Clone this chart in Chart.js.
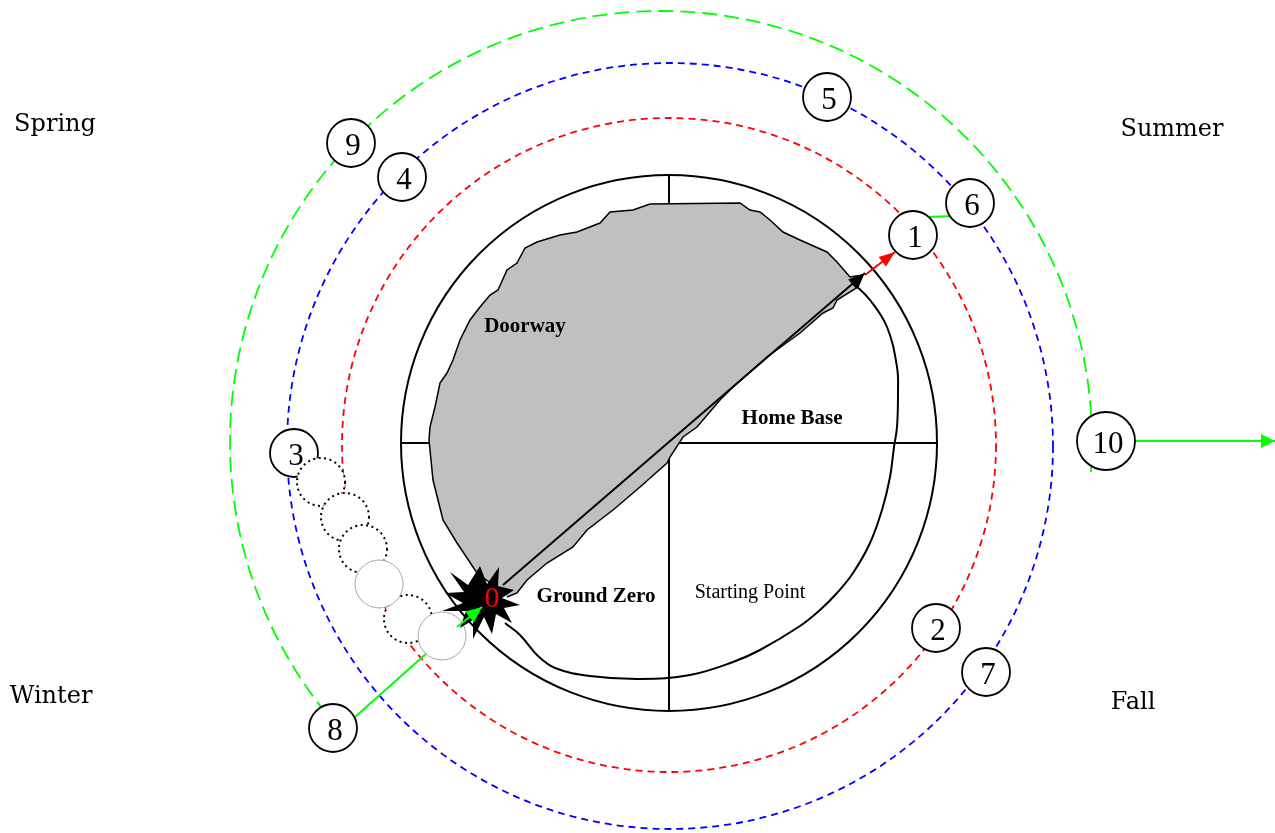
<!DOCTYPE html>
<html>
<head>
<meta charset="utf-8">
<title>Seasons</title>
<script src="https://cdn.jsdelivr.net/npm/chart.js@4.4.1/dist/chart.umd.min.js"></script>
<style>
  html, body { margin: 0; padding: 0; background: #fff; }
  canvas { display: block; }
</style>
</head>
<body>
<canvas id="seasons-chart" width="1275" height="833"></canvas>
<script>
// rings: red, blue, green (centre, radius, arc span in degrees)
const ringCx = [669, 670, 661];
const ringCy = [445, 446, 442];
const ringR = [327, 383, 431];
const ringFrom = [0, 0, 138];
const ringTo = [360, 360, 364];

const homeCircle = [669, 443, 268];
const crossH = [[401, 443], [938, 443]];
const crossV = [[669, 176], [669, 711]];

const doorwayOutline = [
    [500, 590], [477, 573], [457, 543], [443, 520], [433, 480], [429, 440], [430, 427], [435, 407],
    [440, 383], [447, 373], [453, 360], [460, 340], [470, 320], [480, 307], [490, 295], [498, 290],
    [507, 270], [517, 263], [525, 248], [537, 242], [560, 235], [577, 232], [600, 223], [610, 212],
    [633, 210], [650, 204], [740, 203], [750, 210], [760, 212], [770, 220], [783, 232], [800, 240],
    [827, 252], [837, 262], [850, 277], [863, 275], [858, 287], [837, 300], [833, 308], [823, 313],
    [800, 333], [767, 357], [733, 387], [720, 400], [697, 427], [683, 437], [670, 457], [667, 463],
    [640, 487], [633, 493], [613, 510], [587, 530], [573, 547], [547, 563], [527, 580], [517, 593],
    [507, 597],
];

const startingCurve = [
    [853, 283], [870, 300], [887, 327], [897, 367], [898, 393], [897, 427], [894, 447], [890, 477],
    [882, 510], [870, 543], [853, 573], [837, 593], [820, 610], [800, 626], [760, 650], [733, 662],
    [690, 675], [640, 679], [590, 676], [555, 668], [538, 656], [520, 635], [505, 623],
];

const zeroBurst = [
    [450, 572], [468, 585], [480, 566], [487, 584], [499, 567], [498, 586], [514, 590], [502, 598],
    [520, 605], [504, 608], [512, 623], [496, 614], [492, 634], [484, 617], [473, 639], [473, 620],
    [460, 628], [466, 611], [442, 611], [463, 603], [445, 593], [464, 592],
];

const stopLabels = ['1', '2', '3', '4', '5', '6', '7', '8', '9', '10'];
const stopX = [913, 936, 294, 402, 827, 970, 986, 333, 351, 1106];
const stopY = [235, 628, 453, 177, 97, 203, 672, 728, 143, 441];

const trailDotted = [[321, 482], [345, 517], [363, 549], [408, 619]];
const trailSolid = [[379, 584], [442, 636]];
const trailR = 24;

const pathArrow = [[503, 585], [865, 273]];
const redArrow = [[865, 275], [895, 252]];
const greenIn = [[457, 627], [482, 607]];
const sixToOne = [[926, 217], [954, 216]];
const eightToTrail = [[355, 717], [427, 653]];
const tenOut = [[1106, 441], [1275, 441]];

const areaLabels = ['Doorway', 'Home Base', 'Ground Zero', 'Starting Point'];
const areaX = [525, 792, 596, 750];
const areaY = [327, 419, 597, 593];

const seasonLabels = ['Spring', 'Summer', 'Winter', 'Fall'];
const seasonX = [55, 1172, 51, 1133];
const seasonY = [125, 130, 697, 703];

const ringColors = ['#ff0000', '#0000ff', '#00ff00'];
const ringDashes = [[7, 5], [7, 5], [15, 7]];

const pts = (list) => list.map(([x, y]) => ({ x, y }));

const lineSet = (list, color, width, order, extra = {}) => ({
    data: pts(list),
    showLine: true,
    borderColor: color,
    borderWidth: width,
    pointRadius: 0,
    fill: false,
    order,
    ...extra,
});

const px = (chart, x, y) => [chart.scales.x.getPixelForValue(x), chart.scales.y.getPixelForValue(y)];
const lenPx = (chart, r) => chart.scales.x.getPixelForValue(r) - chart.scales.x.getPixelForValue(0);

const arrowHead = (chart, seg, color, len, half) => {
    const ctx = chart.ctx;
    const [x0, y0] = px(chart, seg[0][0], seg[0][1]);
    const [x1, y1] = px(chart, seg[1][0], seg[1][1]);
    const a = Math.atan2(y1 - y0, x1 - x0);
    ctx.save();
    ctx.fillStyle = color;
    ctx.beginPath();
    ctx.moveTo(x1, y1);
    ctx.lineTo(x1 - len * Math.cos(a) + half * Math.sin(a), y1 - len * Math.sin(a) - half * Math.cos(a));
    ctx.lineTo(x1 - len * Math.cos(a) - half * Math.sin(a), y1 - len * Math.sin(a) + half * Math.cos(a));
    ctx.closePath();
    ctx.fill();
    ctx.restore();
};

const backdrop = {
    id: 'backdrop',
    beforeDatasetsDraw(chart) {
        const ctx = chart.ctx;
        ctx.save();
        ringR.forEach((r, i) => {
            const [cx, cy] = px(chart, ringCx[i], ringCy[i]);
            ctx.beginPath();
            ctx.setLineDash(ringDashes[i]);
            ctx.strokeStyle = ringColors[i];
            ctx.lineWidth = 1.8;
            ctx.arc(cx, cy, lenPx(chart, r), ringFrom[i] * Math.PI / 180, ringTo[i] * Math.PI / 180);
            ctx.stroke();
        });
        ctx.setLineDash([]);
        const [hx, hy] = px(chart, homeCircle[0], homeCircle[1]);
        ctx.beginPath();
        ctx.strokeStyle = '#000';
        ctx.lineWidth = 2;
        ctx.arc(hx, hy, lenPx(chart, homeCircle[2]), 0, Math.PI * 2);
        ctx.stroke();
        ctx.restore();
    },
    afterDatasetsDraw(chart) {
        const ctx = chart.ctx;
        ctx.save();
        const r = lenPx(chart, trailR);
        trailDotted.forEach(([x, y]) => {
            const [cx, cy] = px(chart, x, y);
            ctx.beginPath();
            ctx.arc(cx, cy, r, 0, Math.PI * 2);
            ctx.fillStyle = '#fff';
            ctx.fill();
            ctx.setLineDash([2, 3.5]);
            ctx.strokeStyle = '#000';
            ctx.lineWidth = 2;
            ctx.stroke();
        });
        ctx.setLineDash([]);
        trailSolid.forEach(([x, y]) => {
            const [cx, cy] = px(chart, x, y);
            ctx.beginPath();
            ctx.arc(cx, cy, r, 0, Math.PI * 2);
            ctx.fillStyle = '#fff';
            ctx.fill();
            ctx.strokeStyle = '#a8a8a8';
            ctx.lineWidth = 1;
            ctx.stroke();
        });

        // the burst at ground zero
        ctx.beginPath();
        zeroBurst.forEach(([x, y], i) => {
            const [bx, by] = px(chart, x, y);
            if (i === 0) ctx.moveTo(bx, by); else ctx.lineTo(bx, by);
        });
        ctx.closePath();
        ctx.fillStyle = '#000';
        ctx.fill();

        const [g0x, g0y] = px(chart, greenIn[0][0], greenIn[0][1]);
        const [g1x, g1y] = px(chart, greenIn[1][0], greenIn[1][1]);
        ctx.beginPath();
        ctx.moveTo(g0x, g0y);
        ctx.lineTo(g1x, g1y);
        ctx.strokeStyle = '#00ff00';
        ctx.lineWidth = 2;
        ctx.stroke();
        arrowHead(chart, greenIn, '#00ff00', 16, 7);
        arrowHead(chart, pathArrow, '#000', 17, 6);
        arrowHead(chart, redArrow, '#ff0000', 16, 6);
        arrowHead(chart, tenOut, '#00ff00', 14, 7);

        ctx.textAlign = 'center';
        ctx.textBaseline = 'middle';
        ctx.fillStyle = '#000';
        ctx.font = '31px "Liberation Serif"';
        stopLabels.forEach((label, i) => {
            const [tx, ty] = px(chart, stopX[i], stopY[i]);
            ctx.fillText(label, tx + 2, ty + 4);
        });
        ctx.fillStyle = '#ff0000';
        ctx.font = '30px "Liberation Serif"';
        const [zx, zy] = px(chart, 492, 599);
        ctx.fillText('0', zx, zy);

        ctx.fillStyle = '#000';
        areaLabels.forEach((label, i) => {
            ctx.font = label === 'Starting Point' ? '20px "Liberation Serif"' : 'bold 21px "Liberation Serif"';
            const [tx, ty] = px(chart, areaX[i], areaY[i]);
            ctx.fillText(label, tx, ty);
        });
        ctx.font = '24px "DejaVu Serif"';
        seasonLabels.forEach((label, i) => {
            const [tx, ty] = px(chart, seasonX[i], seasonY[i]);
            ctx.fillText(label, tx, ty);
        });
        ctx.restore();
    },
};

const buildChart = () => {
    const canvas = document.getElementById('seasons-chart');
    if (!canvas || typeof Chart === 'undefined') return null;
    return new Chart(canvas, {
        type: 'scatter',
        data: {
            datasets: [
                lineSet(crossH, '#000', 2, 10),
                lineSet(crossV, '#000', 2, 10),
                lineSet(doorwayOutline, '#000', 1.5, 9, { fill: 'shape', backgroundColor: '#c0c0c0' }),
                lineSet(startingCurve, '#000', 2, 8, { tension: 0.4 }),
                lineSet(pathArrow, '#000', 2, 7),
                lineSet(redArrow, '#ff0000', 2, 7),
                lineSet(sixToOne, '#00ff00', 2, 7),
                lineSet(eightToTrail, '#00ff00', 2, 7),
                lineSet(tenOut, '#00ff00', 2, 7),
                {
                    data: stopX.map((x, i) => ({ x, y: stopY[i] })),
                    showLine: false,
                    pointRadius: (c) => (stopLabels[c.dataIndex].length > 1 ? 29 : 24),
                    pointBackgroundColor: '#fff',
                    pointBorderColor: '#000',
                    pointBorderWidth: 1.8,
                    order: 0,
                },
            ],
        },
        options: {
            responsive: false,
            animation: false,
            devicePixelRatio: 1,
            events: [],
            layout: { padding: 0, autoPadding: false },
            scales: {
                x: { type: 'linear', min: 0, max: 1275, display: false },
                y: { type: 'linear', min: 0, max: 833, reverse: true, display: false },
            },
            plugins: { legend: { display: false }, tooltip: { enabled: false } },
        },
        plugins: [backdrop],
    });
};

buildChart();
</script>
</body>
</html>
